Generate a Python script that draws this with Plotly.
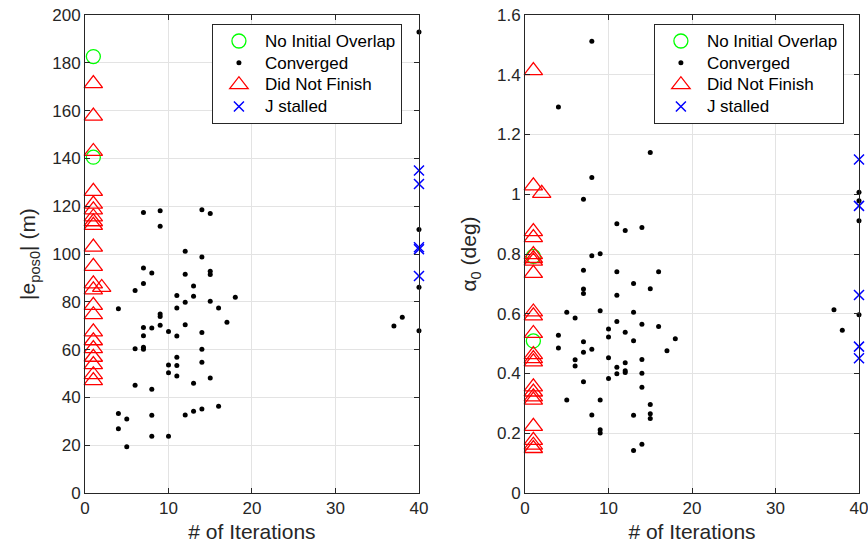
import plotly.graph_objects as go

# ---------------- data (left: position error, right: alpha_0) ----------------
# Converged runs
conv_iter_L = [7, 9, 9, 14, 15, 12, 14, 7, 8, 12, 15, 15, 7, 6, 13, 11, 13, 18, 12, 15,
               11, 16, 4, 9, 9, 7, 8, 9, 10, 11, 12, 14, 17, 7, 6, 7, 7, 14, 11, 10,
               11, 14, 10, 11, 15, 6, 8, 13, 4, 5, 8, 12, 13, 14, 16, 4, 8, 10, 5,
               37, 38, 40, 40, 40, 40]
conv_val_L = [117.4, 118.1, 111.6, 118.5, 116.9, 101.1, 98.7, 94.1, 92.0, 91.5, 92.8, 91.4,
              87.7, 84.7, 86.6, 82.6, 82.3, 81.9, 79.8, 80.2, 77.4, 77.4, 77.1, 74.9, 73.8,
              69.2, 69.0, 70.2, 67.6, 65.7, 70.4, 67.2, 71.4, 65.8, 60.4, 61.0, 60.1, 60.1,
              56.8, 53.6, 53.3, 54.7, 50.3, 49.0, 48.1, 45.1, 43.4, 45.9, 33.3, 31.0, 32.5,
              32.6, 34.2, 35.1, 36.3, 26.9, 23.7, 23.7, 19.4,
              69.9, 73.5, 192.9, 110.3, 86.1, 67.9]

conv_iter_R = [8, 4, 15, 8, 7, 11, 12, 14, 8, 9, 7, 11, 16, 13, 15, 7, 7, 11, 5, 9,
               13, 6, 11, 14, 16, 10, 12, 4, 10, 18, 13, 7, 4, 8, 7, 17, 10, 6, 14, 12,
               11, 6, 12, 12, 11, 14, 10, 7, 14, 5, 9, 15, 8, 13, 15, 15, 9, 9, 14, 13,
               37, 38, 40, 40, 40, 40]
conv_val_R = [1.512, 1.292, 1.140, 1.056, 0.983, 0.901, 0.879, 0.889, 0.794, 0.801, 0.746,
              0.741, 0.741, 0.701, 0.684, 0.683, 0.668, 0.662, 0.605, 0.610, 0.605, 0.586,
              0.574, 0.565, 0.557, 0.549, 0.538, 0.528, 0.522, 0.516, 0.510, 0.506, 0.485,
              0.481, 0.471, 0.476, 0.453, 0.446, 0.447, 0.436, 0.421, 0.425, 0.409, 0.403,
              0.399, 0.401, 0.383, 0.372, 0.354, 0.311, 0.311, 0.296, 0.261, 0.260, 0.265,
              0.249, 0.212, 0.201, 0.163, 0.142,
              0.613, 0.545, 1.007, 0.978, 0.911, 0.597]

# No initial overlap
noov_iter_L = [1, 1]
noov_val_L = [182.6, 140.5]
noov_iter_R = [1, 1]
noov_val_R = [0.792, 0.509]

# Did not finish
dnf_iter_L = [1] * 22 + [2]
dnf_val_L = [171.3, 157.7, 142.9, 126.2, 120.9, 118.5, 115.5, 113.5, 112.0, 102.9, 94.8,
             87.5, 85.0, 78.5, 74.6, 67.4, 63.7, 60.4, 56.8, 53.7, 49.5, 47.0, 86.0]
dnf_iter_R = [1] * 22 + [2]
dnf_val_R = [1.414, 1.028, 0.875, 0.855, 0.798, 0.785, 0.776, 0.735, 0.606, 0.593, 0.534,
             0.463, 0.450, 0.439, 0.355, 0.338, 0.322, 0.311, 0.223, 0.176, 0.160, 0.149,
             1.003]

# J stalled
js_iter_L = [40, 40, 40, 40, 40]
js_val_L = [134.9, 129.3, 102.8, 102.0, 90.8]
js_iter_R = [40, 40, 40, 40, 40]
js_val_R = [1.116, 0.961, 0.663, 0.490, 0.451]

series_names = ["No Initial Overlap", "Converged", "Did Not Finish", "J stalled"]

x_ticks = [0, 10, 20, 30, 40]
yL_ticks = [0, 20, 40, 60, 80, 100, 120, 140, 160, 180, 200]
yR_ticks = [0, 0.2, 0.4, 0.6, 0.8, 1.0, 1.2, 1.4, 1.6]

# ---------------- figure ----------------
FONT = "Liberation Sans, Arial, Helvetica, sans-serif"
AX = "#262626"
GRID = "#e3e3e3"

fig = go.Figure()


def lbl(s):
    # larger visible text while the legend row spacing follows the (smaller) legend font
    return '<span style="font-size:17px">' + s + '</span>'


def add_set(xs, ys, xaxis, yaxis, legend):
    fig.add_trace(go.Scatter(
        x=xs[0], y=ys[0], mode="markers", name=lbl(series_names[0]),
        xaxis=xaxis, yaxis=yaxis, legend=legend, cliponaxis=False,
        marker=dict(symbol="circle-open", size=14, color="#00ff00",
                    line=dict(width=1.3, color="#00ff00"))))
    fig.add_trace(go.Scatter(
        x=xs[1], y=ys[1], mode="markers", name=lbl(series_names[1]),
        xaxis=xaxis, yaxis=yaxis, legend=legend, cliponaxis=False,
        marker=dict(symbol="circle", size=5, color="black")))
    fig.add_trace(go.Scatter(
        x=xs[2], y=ys[2], mode="markers", name=lbl(series_names[2]),
        xaxis=xaxis, yaxis=yaxis, legend=legend, cliponaxis=False,
        marker=dict(symbol="triangle-up-open", size=16, color="#ff0000",
                    line=dict(width=1.3, color="#ff0000"))))
    fig.add_trace(go.Scatter(
        x=xs[3], y=ys[3], mode="markers", name=lbl(series_names[3]),
        xaxis=xaxis, yaxis=yaxis, legend=legend, cliponaxis=False,
        marker=dict(symbol="x-thin-open", size=10, color="#0000ff",
                    line=dict(width=1.5, color="#0000ff"))))


add_set([noov_iter_L, conv_iter_L, dnf_iter_L, js_iter_L],
        [noov_val_L, conv_val_L, dnf_val_L, js_val_L], "x", "y", "legend")
add_set([noov_iter_R, conv_iter_R, dnf_iter_R, js_iter_R],
        [noov_val_R, conv_val_R, dnf_val_R, js_val_R], "x2", "y2", "legend2")

common_axis = dict(
    showline=True, linecolor=AX, linewidth=1, mirror="allticks",
    ticks="inside", ticklen=5, tickcolor=AX, tickwidth=1,
    showgrid=True, gridcolor=GRID, gridwidth=1, zeroline=False,
    automargin=False, ticklabeloverflow="allow",
    tickfont=dict(family=FONT, size=17, color=AX),
)
title_font = dict(family=FONT, size=21, color=AX)

x_dom1 = [0, 0.4315]
x_dom2 = [0.5685, 1]

fig.update_layout(
    template="none",
    width=868, height=546,
    margin=dict(l=85, r=9, t=15, b=53),
    paper_bgcolor="white", plot_bgcolor="white",
    font=dict(family=FONT, color="black"),
    showlegend=True,
    xaxis=dict(domain=x_dom1, range=[0, 40], tickvals=x_ticks, anchor="y",
               title=dict(text="# of Iterations", standoff=6, font=title_font),
               **common_axis),
    yaxis=dict(domain=[0, 1], range=[0, 200], tickvals=yL_ticks, anchor="x",
               title=dict(text="|e<sub>pos0</sub>| (m)", standoff=10, font=title_font),
               **common_axis),
    xaxis2=dict(domain=x_dom2, range=[0, 40], tickvals=x_ticks, anchor="y2",
                title=dict(text="# of Iterations", standoff=6, font=title_font),
                **common_axis),
    yaxis2=dict(domain=[0, 1], range=[0, 1.6], tickvals=yR_ticks, anchor="x2",
                title=dict(text="α<sub>0</sub> (deg)", standoff=14, font=title_font),
                **common_axis),
    legend=dict(x=0.164, y=0.981, xanchor="left", yanchor="top",
                bgcolor="white", bordercolor=AX, borderwidth=1,
                font=dict(family=FONT, size=14.5, color="black"),
                itemwidth=42, tracegroupgap=0),
    legend2=dict(x=0.735, y=0.981, xanchor="left", yanchor="top",
                 bgcolor="white", bordercolor=AX, borderwidth=1,
                 font=dict(family=FONT, size=14.5, color="black"),
                 itemwidth=42, tracegroupgap=0),
)

fig.write_html(
    "out.html",
    config={"displayModeBar": False},
    post_script="document.body.style.margin='0';document.body.style.overflow='hidden';",
)
